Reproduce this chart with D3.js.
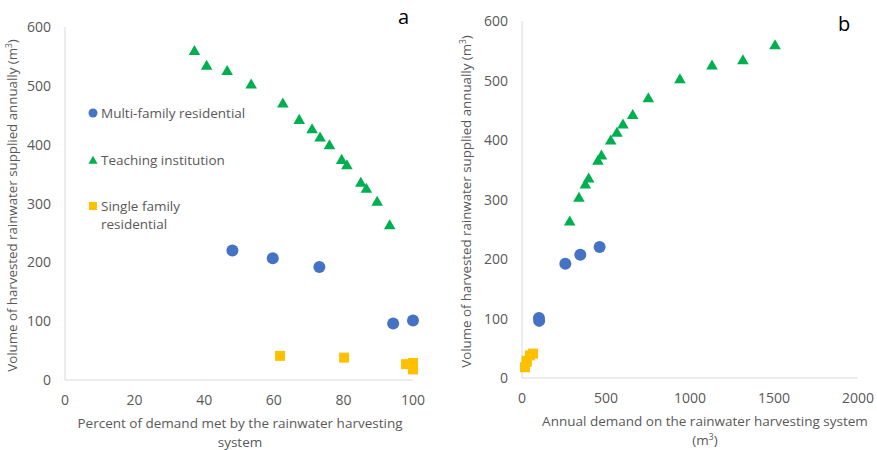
<!DOCTYPE html>
<html>
<head>
<meta charset="utf-8">
<script src="https://cdn.jsdelivr.net/npm/d3@7"></script>
<style>
  body { margin: 0; background: #fff; }
  text { font-family: "Open Sans", "Noto Sans", sans-serif; }
</style>
</head>
<body>
<svg id="chart" width="877" height="450"></svg>
<script>
// values
const teachPct    = [37.2, 40.7, 46.6, 53.5, 62.6, 67.3, 71.0, 73.3, 76.0, 79.5, 81.0, 85.0, 86.6, 89.7, 93.3]
const teachDemand = [1506, 1315, 1131, 940, 752, 659, 601, 565, 528, 473, 452, 397, 377, 339, 284]
const teachVol    = [558, 533, 524, 501, 469, 441, 425, 411, 398, 373, 364, 334, 324, 302, 262]

const multiPct    = [48.1, 59.7, 73.1, 94.3, 100]
const multiDemand = [462, 347, 258, 102, 101]
const multiVol    = [220, 207, 192, 96, 101]

const singlePct    = [61.8, 80.2, 98, 100, 100]
const singleDemand = [66, 47, 28, 28, 18]
const singleVol    = [41, 38, 27, 29, 18]

const yTicks = [0, 100, 200, 300, 400, 500, 600]
const xTicksA = [0, 20, 40, 60, 80, 100]
const xTicksB = [0, 500, 1000, 1500, 2000]

const blue = '#4472c4', green = '#00b050', gold = '#ffc000'
const grey = '#595959', axisCol = '#d9d9d9'

const svg = d3.select('#chart')

function panel(opts) {
  const x = d3.scaleLinear().domain(opts.xDomain).range(opts.xRange)
  const y = d3.scaleLinear().domain([0, 600]).range(opts.yRange)
  const g = svg.append('g')

  // axis lines
  g.append('line').attr('x1', x.range()[0]).attr('x2', x.range()[1])
    .attr('y1', y(0)).attr('y2', y(0)).attr('stroke', axisCol).attr('stroke-width', 1)
  g.append('line').attr('x1', x.range()[0]).attr('x2', x.range()[0])
    .attr('y1', y(0)).attr('y2', y(600)).attr('stroke', axisCol).attr('stroke-width', 1)

  g.selectAll('.yt').data(yTicks).join('text')
    .attr('x', x.range()[0] - 14).attr('y', d => y(d) + 5)
    .attr('text-anchor', 'end').attr('fill', grey).attr('font-size', 14)
    .text(d => d)
  g.selectAll('.xt').data(opts.xTicks).join('text')
    .attr('x', d => x(d)).attr('y', y(0) + 25)
    .attr('text-anchor', 'middle').attr('fill', grey).attr('font-size', 14)
    .text(d => d)

  // y title
  g.append('text')
    .attr('transform', `translate(${opts.yTitleX},${(y(0) + y(600)) / 2 + 2}) rotate(-90)`)
    .attr('text-anchor', 'middle').attr('fill', grey).attr('font-size', 13.3)
    .html('Volume of harvested rainwater supplied annually (m<tspan dy="-5" font-size="8.5">3</tspan><tspan dy="5">)</tspan>')

  // x title
  opts.xTitle.forEach((t, i) => {
    g.append('text').attr('x', opts.xTitleX).attr('y', y(0) + 48 + i * 19)
      .attr('text-anchor', 'middle').attr('fill', grey).attr('font-size', 13.5)
      .html(t)
  })

  // panel letter
  g.append('text').attr('x', opts.letter[1]).attr('y', opts.letter[2])
    .attr('font-size', 20).attr('fill', '#000').text(opts.letter[0])

  const tri = d3.symbol().type(d3.symbolTriangle).size(58)
  const sq = d3.symbol().type(d3.symbolSquare).size(100)

  g.selectAll('.teach').data(opts.teachX.map((v, i) => [v, teachVol[i]])).join('path')
    .attr('d', tri).attr('fill', green)
    .attr('transform', d => `translate(${x(d[0])},${y(d[1])})`)
  g.selectAll('.multi').data(opts.multiX.map((v, i) => [v, multiVol[i]])).join('circle')
    .attr('r', 6).attr('fill', blue)
    .attr('cx', d => x(d[0])).attr('cy', d => y(d[1]))
  g.selectAll('.single').data(opts.singleX.map((v, i) => [v, singleVol[i]])).join('path')
    .attr('d', sq).attr('fill', gold)
    .attr('transform', d => `translate(${x(d[0])},${y(d[1])})`)
}

panel({
  xDomain: [0, 100], xRange: [65, 413], yRange: [380, 27], xTicks: xTicksA,
  teachX: teachPct, multiX: multiPct, singleX: singlePct,
  yTitleX: 17, xTitleX: 240,
  xTitle: ['Percent of demand met by the rainwater harvesting', 'system'],
  letter: ['a', 398, 24]
})
panel({
  xDomain: [0, 2000], xRange: [522, 858], yRange: [378, 21], xTicks: xTicksB,
  teachX: teachDemand, multiX: multiDemand, singleX: singleDemand,
  yTitleX: 471, xTitleX: 705,
  xTitle: ['Annual demand on the rainwater harvesting system', '(m<tspan dy="-5" font-size="8.5">3</tspan><tspan dy="5">)</tspan>'],
  letter: ['b', 838, 31]
})

// legend (inside panel a)
const leg = svg.append('g')
const legItems = [
  { lines: ['Multi-family residential'], y: 113, shape: 'circle', col: blue },
  { lines: ['Teaching institution'], y: 160, shape: 'tri', col: green },
  { lines: ['Single family', 'residential'], y: 206, shape: 'sq', col: gold }
]
legItems.forEach(it => {
  if (it.shape === 'circle') {
    leg.append('circle').attr('cx', 93).attr('cy', it.y).attr('r', 4.5).attr('fill', it.col)
  } else if (it.shape === 'tri') {
    leg.append('path').attr('d', d3.symbol().type(d3.symbolTriangle).size(36))
      .attr('transform', `translate(93,${it.y + 1})`).attr('fill', it.col)
  } else {
    leg.append('rect').attr('x', 89).attr('y', it.y - 4).attr('width', 8).attr('height', 8).attr('fill', it.col)
  }
  it.lines.forEach((l, i) => {
    leg.append('text').attr('x', 101).attr('y', it.y + 5 + i * 18)
      .attr('fill', grey).attr('font-size', 13.5).text(l)
  })
})
</script>
</body>
</html>
